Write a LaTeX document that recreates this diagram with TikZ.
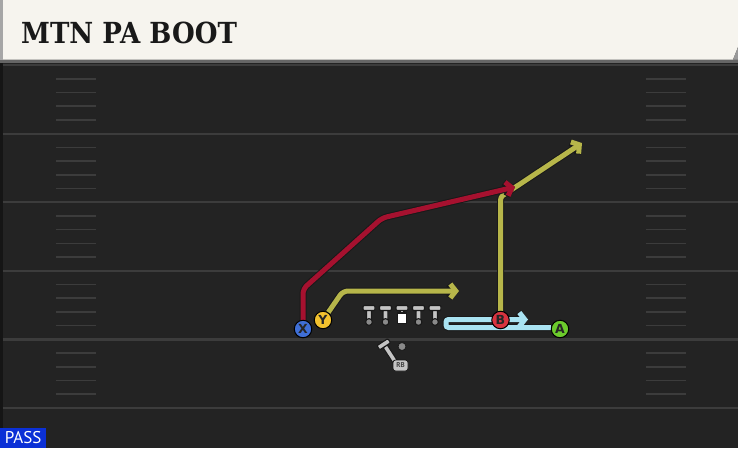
\documentclass[tikz,border=0pt]{standalone}
\usepackage{fontspec}
\usetikzlibrary{positioning,arrows.meta}
\newfontfamily\titlefont{DejaVu Serif}
\newfontfamily\tagfont{PT Sans}
\newfontfamily\playerfont{DejaVu Sans}

\definecolor{field}{HTML}{232323}
\definecolor{fieldline}{HTML}{3C3C3C}
\definecolor{header}{HTML}{F6F4EE}
\definecolor{xblue}{HTML}{3F6FD6}
\definecolor{yyellow}{HTML}{F2C12E}
\definecolor{bred}{HTML}{D8333F}
\definecolor{agreen}{HTML}{6CCB2C}
\definecolor{xroute}{HTML}{A6112F}
\definecolor{olive}{HTML}{B7B64A}
\definecolor{skyroute}{HTML}{A9E3F2}
\definecolor{linegray}{HTML}{C4C4C4}
\definecolor{ballgray}{HTML}{8A8A8A}
\definecolor{passblue}{HTML}{0B30D6}

\pgfdeclarelayer{under}
\pgfsetlayers{under,main}

\begin{document}
\begin{tikzpicture}[x=1pt,y=-1pt,node distance=16.5pt,
    player/.style={circle,draw=black,line width=1pt,minimum size=17.5pt,inner sep=0pt,font=\playerfont\bfseries\fontsize{12.5}{12.5}\selectfont,text=black!85},
    lineman/.style={inner sep=0pt,minimum size=2pt},
    tee/.style={draw=black!90,line width=1.1pt,fill=linegray},
    route/.style={line width=5pt,rounded corners=5pt,-{Straight Barb[length=5.5pt,width=14pt]},preaction={draw=black!90,line width=7pt}},
    yardline/.style={draw=fieldline,line width=2.2pt},
    hash/.style={draw=fieldline,line width=1.6pt}]
    \useasboundingbox (0,0) rectangle (738,448);

    % players
    \node[player,fill=xblue] (X) at (303,329) {X};
    \node[player,fill=yyellow] (Y) at (323,320) {Y};
    \node[player,fill=bred] (B) at (500.5,320) {B};
    \node[player,fill=agreen] (A) at (560,329) {A};

    % line
    \node[lineman] (lt) at (369,315) {};
    \node[lineman] (lg) [right of=lt] {};
    \node[lineman] (c) [right of=lg] {};
    \node[lineman] (rg) [right of=c] {};
    \node[lineman] (rt) [right of=rg] {};
    \foreach \n in {lt,lg,rg,rt} {
        \draw[tee,rounded corners=1pt] ([shift={(-2.5,-5)}]\n.center) rectangle ([shift={(2.5,5)}]\n.center);
        \draw[tee,rounded corners=1pt] ([shift={(-6,-9.5)}]\n.center) rectangle ([shift={(6,-4.5)}]\n.center);
        \draw[tee,fill=ballgray] ([shift={(0,7)}]\n.center) circle (3.4pt);
    }
    \draw[tee] ([shift={(-2,-5)}]c.center) rectangle ([shift={(2,-2)}]c.center);
    \draw[tee,rounded corners=1pt] ([shift={(-6,-9.5)}]c.center) rectangle ([shift={(6,-4.5)}]c.center);
    \draw[tee,fill=white] ([shift={(-4.8,-2)}]c.center) rectangle ([shift={(4.8,8.5)}]c.center);

    % backfield
    \node[circle,fill=ballgray,draw=black!90,line width=0.8pt,minimum size=8pt,inner sep=0pt] (qb) at (402,346.5) {};
    \begin{scope}[shift={(389.5,353)},rotate=33]
        \draw[tee,rounded corners=1pt] (-2.5,-8) rectangle (2.5,13);
        \draw[tee,rounded corners=1pt] (-6.5,-13) rectangle (6.5,-8);
    \end{scope}
    \node[draw=black!90,line width=0.8pt,fill=linegray,rounded corners=2.5pt,minimum width=15pt,minimum height=11pt,inner sep=0pt,font=\tagfont\bfseries\fontsize{7}{7}\selectfont,text=black!75] (rb) at (400.5,365.5) {RB};

    % route ends
    \coordinate (xbend1) at (303,289);
    \coordinate (xbend2) at (382,218);
    \coordinate (xend) at (515,187);
    \coordinate (ybend) at (343,291);
    \coordinate (yend) at (459,291);
    \coordinate (bbend) at (500.5,197);
    \coordinate (bend) at (582,143);
    \coordinate (abend1) at (446,327.5);
    \coordinate (abend2) at (446,319.5);
    \coordinate (aend) at (528,319.5);

    \begin{pgfonlayer}{under}
        \fill[field] (0,0) rectangle (738,448);
        \fill[black!40!field] (0,60) rectangle (2.5,448);
        \foreach \k in {0,...,5}
            \draw[yardline] (2.5,65+68.6*\k) -- (738,65+68.6*\k);
        \foreach \k in {0,...,4}
            \foreach \j in {1,...,4} {
                \draw[hash] (56,65+68.6*\k+13.72*\j) -- (96,65+68.6*\k+13.72*\j);
                \draw[hash] (646,65+68.6*\k+13.72*\j) -- (686,65+68.6*\k+13.72*\j);
            }

        \draw[route,color=skyroute,rounded corners=2.5pt] (A.west |- abend1) -- (abend1) -- (abend2) -- (aend);
        \draw[route,color=olive] (Y) -- (ybend) -- (yend);
        \draw[route,color=olive,rounded corners=3pt] (B) -- (bbend) -- (bend);
        \draw[route,color=xroute] (X) -- (xbend1) -- (xbend2) -- (xend);
    \end{pgfonlayer}

    % header
    \fill[black!60] (0,59) rectangle (738,63);
    \fill[header] (0,0) -- (738,0) -- (738,47) -- (733,59.5) -- (0,59.5) -- cycle;
    \fill[black!35] (0,0) rectangle (2.5,59.5);
    \fill[black!40] (738,47) -- (733,59.5) -- (738,59.5) -- cycle;
    \node[anchor=base west,inner sep=0pt,font=\titlefont\bfseries\fontsize{29}{29}\selectfont,text=black!90,xscale=0.9] (title) at (21,43) {MTN PA BOOT};

    % play type
    \node[fill=passblue,anchor=south west,minimum width=46pt,minimum height=20pt,inner sep=0pt,font=\tagfont\fontsize{17}{17}\selectfont,text=white] (pass) at (0,448) {PASS};
\end{tikzpicture}
\end{document}
